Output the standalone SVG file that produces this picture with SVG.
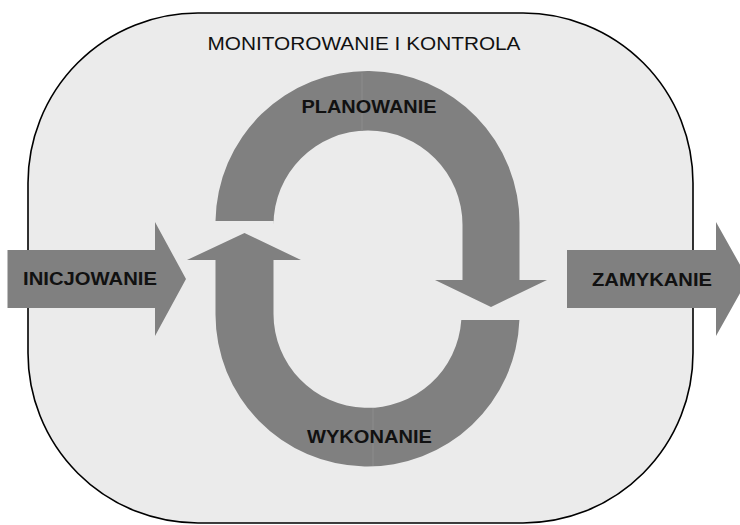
<svg xmlns="http://www.w3.org/2000/svg" width="740" height="525" viewBox="0 0 740 525">
  <style>
    .frame { fill: #ebebeb; stroke: #000; stroke-width: 1.6; }
    .arrow { fill: #808080; stroke: none; }
    .seam { stroke: #8c8c8c; stroke-width: 1; fill: none; }
    .lbl { font-family: "Liberation Sans", Arial, sans-serif; fill: #111; text-anchor: middle; }
    .b { font-weight: bold; }
  </style>
  <rect width="740" height="525" fill="#ffffff"/>
  <g id="monitorowanie">
    <rect class="frame" x="28" y="13" width="665" height="510" rx="170" ry="170"/>
    <text class="lbl" x="364" y="49.5" font-size="18.5" textLength="313" lengthAdjust="spacingAndGlyphs">MONITOROWANIE I KONTROLA</text>
  </g>
  <g id="planowanie">
    <path class="arrow" d="M215.5 221 A152 152 0 0 1 519.5 225 L519.5 280 L547 280 L491 307 L435 280 L462.5 280 L462.5 225 A94.5 94.5 0 0 0 273.5 225 L273.5 221 Z"/>
    <line class="seam" x1="362" y1="73" x2="362" y2="131"/>
    <text class="lbl b" x="369" y="113.3" font-size="18" textLength="135" lengthAdjust="spacingAndGlyphs">PLANOWANIE</text>
  </g>
  <g id="wykonanie">
    <path class="arrow" d="M519.4 320 A152 152 0 0 1 215.5 314 L215.5 260 L187 260 L244.5 233 L301 260 L273.5 260 L273.5 314 A94 94 0 0 0 461.3 320 Z"/>
    <line class="seam" x1="373" y1="408" x2="373" y2="466"/>
    <text class="lbl b" x="369.5" y="443" font-size="18" textLength="125" lengthAdjust="spacingAndGlyphs">WYKONANIE</text>
  </g>
  <g id="inicjowanie">
    <path class="arrow" d="M7.5 250 L155 250 L155 222 L186 279 L155 336 L155 308 L7.5 308 Z"/>
    <text class="lbl b" x="90" y="285" font-size="19" textLength="134" lengthAdjust="spacingAndGlyphs">INICJOWANIE</text>
  </g>
  <g id="zamykanie">
    <path class="arrow" d="M567 250 L716 250 L716 222 L748 279 L716 336 L716 308 L567 308 Z"/>
    <text class="lbl b" x="652" y="286" font-size="19" textLength="120" lengthAdjust="spacingAndGlyphs">ZAMYKANIE</text>
  </g>
  <g id="connectors"/>
</svg>
